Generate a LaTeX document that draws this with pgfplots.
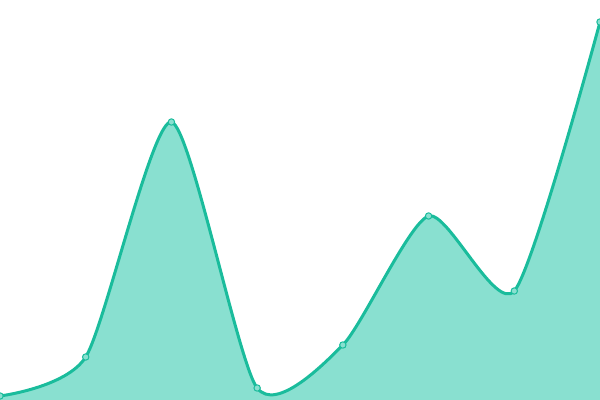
\documentclass[border=0pt]{standalone}
\usepackage{pgfplots}
\pgfplotsset{compat=1.18}
\definecolor{linegreen}{RGB}{26,188,156}
\definecolor{fillgreen}{RGB}{137,224,208}
\begin{document}
\begin{tikzpicture}
  \begin{axis}[
    scale only axis,
    width=600bp, height=400bp,
    hide axis,
    xmin=0, xmax=7,
    ymin=0, ymax=400,
    clip=true]
    \addplot[draw=none, fill=fillgreen, smooth, tension=0.4] coordinates {
      (0,4) (1,43) (2,278) (3,12) (4,55) (5,184) (6,109) (7,378)
    } \closedcycle;
    \addplot[color=linegreen, line width=3bp, smooth, tension=0.4,
      mark=*, mark size=3.2bp,
      mark options={fill=fillgreen, draw=linegreen, line width=1bp}] coordinates {
      (0,4) (1,43) (2,278) (3,12) (4,55) (5,184) (6,109) (7,378)
    };
  \end{axis}
  \pgfresetboundingbox
  \path (current axis.south west) rectangle (current axis.north east);
\end{tikzpicture}
\end{document}
